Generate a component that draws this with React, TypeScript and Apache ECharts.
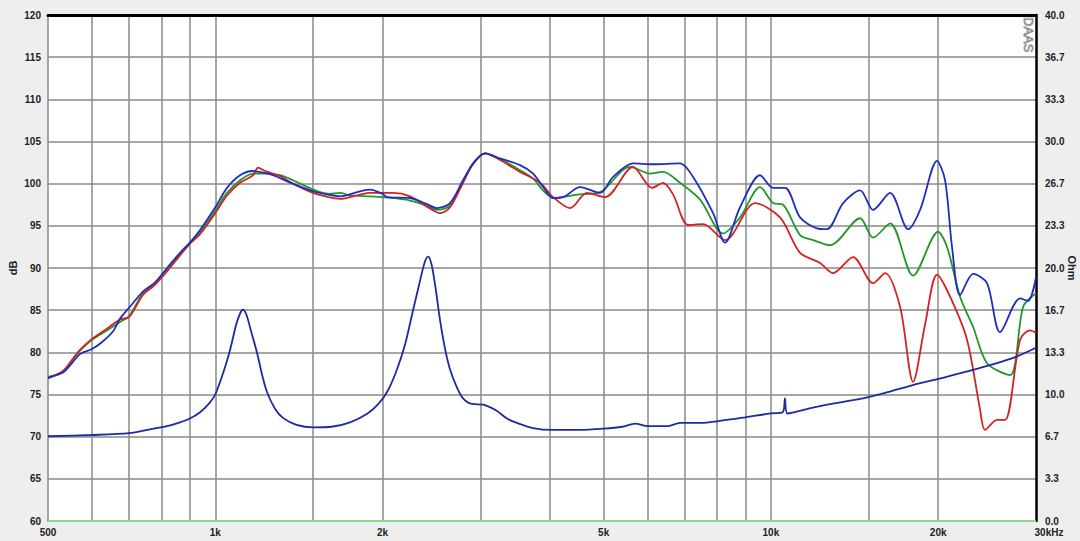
import { useEffect, useRef } from 'react';
import * as echarts from 'echarts';

// frequency (Hz), level (dB)
const splRed: [number, number][] = [
  [500, 76.9], [532, 77.8], [555, 79.3], [571, 80.3], [600, 81.6], [638, 82.8], [674, 83.9],
  [700, 84.2], [741, 86.8], [779, 88.0], [819, 89.6], [864, 91.5], [900, 92.9], [939, 94.0],
  [1000, 96.5], [1050, 98.6], [1108, 100.1], [1169, 101.0], [1194, 101.9], [1230, 101.5],
  [1308, 100.9], [1380, 100.0], [1500, 98.9], [1600, 98.4], [1677, 98.2], [1822, 98.7],
  [1899, 98.9], [2000, 98.9], [2089, 98.9], [2242, 98.5], [2400, 97.3], [2539, 96.5],
  [2646, 97.2], [2792, 100.1], [2911, 102.4], [3058, 103.6], [3255, 102.8], [3536, 101.4],
  [3842, 100.1], [4055, 98.4], [4351, 97.1], [4667, 98.9], [5030, 98.4], [5648, 102.0],
  [6110, 99.5], [6397, 100.1], [6670, 98.7], [7095, 95.1], [7549, 95.2], [8272, 93.3],
  [9366, 97.7], [10387, 96.0], [11285, 91.8], [12260, 90.6], [12941, 89.4], [14058, 91.3],
  [15276, 88.2], [16049, 89.4], [17080, 85.4], [18030, 76.5], [18944, 83.3], [19906, 89.2],
  [21014, 86.6], [22541, 81.5], [23794, 73.2], [24290, 70.8], [25527, 72.0], [26391, 72.0],
  [28085, 81.5], [29269, 82.6], [30000, 82.3],
];

const splGreen: [number, number][] = [
  [500, 77.1], [532, 77.7], [555, 79.2], [571, 80.2], [600, 81.5], [638, 82.6], [674, 83.6],
  [700, 84.3], [741, 87.0], [779, 88.2], [819, 89.9], [864, 91.6], [900, 92.9], [939, 94.2],
  [1000, 96.8], [1050, 98.9], [1108, 100.4], [1169, 101.2], [1230, 101.2], [1308, 101.0],
  [1380, 100.4], [1500, 99.3], [1600, 98.8], [1677, 98.9], [1750, 98.6], [1899, 98.5],
  [2000, 98.4], [2089, 98.3], [2242, 98.0], [2400, 97.4], [2506, 96.9], [2646, 97.4],
  [2792, 100.2], [2911, 102.3], [3058, 103.6], [3255, 102.9], [3536, 101.6], [3732, 100.6],
  [3890, 99.2], [4055, 98.3], [4478, 98.7], [4927, 99.0], [5578, 102.0], [6060, 101.2],
  [6397, 101.4], [6862, 100.1], [7456, 98.1], [8202, 94.1], [8800, 96.0], [9561, 99.6],
  [10090, 97.7], [10520, 97.5], [11285, 93.9], [11912, 93.3], [12778, 92.7], [14471, 95.9],
  [15276, 93.6], [16388, 95.3], [18030, 89.1], [19995, 94.3], [20749, 92.5], [21899, 86.6],
  [23121, 83.0], [24490, 78.7], [26946, 77.3], [28445, 85.4], [30000, 87.0],
];

const splBlue: [number, number][] = [
  [500, 77.0], [532, 77.6], [555, 78.9], [571, 79.8], [600, 80.4], [625, 81.2], [655, 82.5],
  [674, 84.0], [700, 85.3], [741, 87.2], [779, 88.3], [819, 90.0], [864, 91.8], [900, 93.0],
  [939, 94.5], [1000, 97.2], [1050, 99.5], [1108, 101.0], [1169, 101.5], [1220, 101.3],
  [1270, 101.0], [1380, 100.0], [1500, 99.1], [1600, 98.7], [1677, 98.5], [1822, 99.1],
  [1899, 99.3], [2000, 98.8], [2038, 98.4], [2242, 98.3], [2400, 97.6], [2506, 97.1],
  [2646, 97.7], [2792, 100.4], [2911, 102.4], [3058, 103.6], [3255, 103.0], [3536, 102.2],
  [3732, 101.2], [3890, 99.6], [4055, 98.3], [4226, 98.4], [4536, 99.6], [4927, 98.9],
  [5200, 100.8], [5648, 102.4], [6137, 102.3], [6862, 102.4], [7244, 100.8], [7870, 96.5],
  [8272, 93.0], [8800, 97.2], [9561, 101.0], [10090, 99.5], [10605, 99.5], [11285, 96.0],
  [12105, 94.7], [12617, 94.6], [13487, 97.7], [14471, 99.2], [15276, 96.9], [16388, 98.9],
  [17660, 94.6], [18558, 96.9], [19906, 102.7], [20582, 100.4], [21182, 92.5], [21899, 86.8],
  [23121, 89.3], [24490, 88.2], [25850, 82.4], [28085, 86.4], [29035, 86.1], [30000, 88.9],
];

// frequency (Hz), impedance (Ohm)
const impedance: [number, number][] = [
  [500, 6.7], [600, 6.8], [700, 6.95], [763, 7.25], [819, 7.5], [864, 7.8], [900, 8.1],
  [939, 8.6], [975, 9.3], [1000, 10.0], [1035, 11.8], [1063, 13.5], [1090, 15.5], [1108, 16.4],
  [1122, 16.7], [1138, 16.3], [1160, 15.0], [1189, 13.3], [1215, 11.5], [1239, 10.2],
  [1280, 8.9], [1324, 8.15], [1400, 7.6], [1500, 7.4], [1620, 7.45], [1748, 7.8],
  [1880, 8.5], [1970, 9.3], [2044, 10.3], [2120, 11.9], [2197, 14.0], [2260, 16.3],
  [2325, 18.6], [2380, 20.4], [2415, 20.9], [2450, 20.3], [2490, 18.5], [2540, 15.8],
  [2592, 13.6], [2645, 12.0], [2720, 10.6], [2792, 9.7], [2900, 9.25], [3035, 9.2],
  [3120, 9.0], [3215, 8.7], [3350, 8.1], [3490, 7.75], [3730, 7.35], [4050, 7.2],
  [4500, 7.2], [5000, 7.3], [5400, 7.45], [5700, 7.7], [6000, 7.5], [6500, 7.5],
  [6862, 7.75], [7500, 7.75], [8050, 7.9], [9000, 8.2], [10000, 8.5], [10500, 8.6],
  [10600, 9.7], [10700, 8.5], [12000, 9.0], [13000, 9.3], [14650, 9.7], [16000, 10.1],
  [18000, 10.75], [20700, 11.4], [23800, 12.1], [27300, 12.9], [30000, 13.7],
];

const freqMin = 500;
const freqMax = 30000;
const gridFreqs = [600, 700, 800, 900, 1000, 1500, 2000, 3000, 4000, 5000, 6000, 7000, 8000, 9000, 10000, 15000, 20000];
const labelFreqs = [500, 1000, 2000, 5000, 10000, 20000, 30000];
const labelTexts = ['500', '1k', '2k', '5k', '10k', '20k', '30kHz'];
const baselineDb = 60;

const lg = (pts: [number, number][]) => pts.map(([f, v]) => [Math.log10(f), v]);

const labelFont = {
  fontSize: 10,
  fontWeight: 'bold' as const,
  color: '#222',
  fontFamily: 'Liberation Sans, Arial, sans-serif',
};

export default function App() {
  const chartRef = useRef<HTMLDivElement>(null);

  useEffect(() => {
    if (!chartRef.current) return;
    const chart = echarts.init(chartRef.current, undefined, { renderer: 'svg' });

    const xMin = Math.log10(freqMin);
    const xMax = Math.log10(freqMax);

    const curve = (name: string, data: [number, number][], color: string, yAxisIndex = 0) => ({
      name,
      type: 'line',
      yAxisIndex,
      data: lg(data),
      showSymbol: false,
      smooth: 0.3,
      lineStyle: { color, width: 1.8 },
      itemStyle: { color },
    });

    chart.setOption({
      animation: false,
      backgroundColor: '#eeeeee',
      grid: {
        left: 48,
        right: 44,
        top: 15,
        bottom: 20,
        outerBoundsMode: 'none',
        containLabel: false,
        show: true,
        backgroundColor: '#ffffff',
        borderWidth: 0,
      },
      xAxis: [
        {
          type: 'value',
          min: xMin,
          max: xMax,
          offset: 2,
          axisLine: { show: true, lineStyle: { color: '#8a8a8a', width: 1 } },
          axisTick: { show: false, customValues: gridFreqs.map(f => Math.log10(f)) },
          splitLine: { show: true, lineStyle: { color: '#8a8a8a', width: 1.5 } },
          axisLabel: {
            ...labelFont,
            margin: 4,
            customValues: labelFreqs.map(f => Math.log10(f)),
            formatter: (v: number) => {
              const i = labelFreqs.findIndex(f => Math.abs(Math.log10(f) - v) < 1e-6);
              if (i < 0) return '';
              return i === labelFreqs.length - 1 ? `{hz|${labelTexts[i]}}` : labelTexts[i];
            },
            rich: { hz: { ...labelFont, padding: [0, 0, 0, 26] } },
          },
        },
        {
          type: 'value',
          position: 'top',
          min: xMin,
          max: xMax,
          axisLine: { show: true, lineStyle: { color: '#000', width: 3 } },
          axisTick: { show: false },
          axisLabel: { show: false },
          splitLine: { show: false },
        },
      ],
      yAxis: [
        {
          type: 'value',
          min: 60,
          max: 120,
          interval: 5,
          name: 'dB',
          nameLocation: 'middle',
          nameRotate: 90,
          nameGap: 30,
          nameMoveOverlap: false,
          nameTextStyle: { ...labelFont, fontSize: 11 },
          axisLine: { show: true, lineStyle: { color: '#8a8a8a', width: 1.5 } },
          axisTick: { show: false },
          axisLabel: { ...labelFont, margin: 7 },
          splitLine: { show: true, lineStyle: { color: '#8a8a8a', width: 1.5 } },
        },
        {
          type: 'value',
          min: 0,
          max: 40,
          interval: 40 / 12,
          position: 'right',
          name: 'Ohm',
          nameLocation: 'middle',
          nameRotate: -90,
          nameGap: 30,
          nameMoveOverlap: false,
          nameTextStyle: { ...labelFont, fontSize: 11 },
          axisLine: { show: true, lineStyle: { color: '#000', width: 2.5 } },
          axisTick: { show: false },
          axisLabel: { ...labelFont, margin: 9, formatter: (v: number) => v.toFixed(1) },
          splitLine: { show: false },
        },
      ],
      graphic: [
        {
          type: 'text',
          x: 1035,
          y: 17,
          rotation: -Math.PI / 2,
          style: {
            text: 'DAAS',
            fill: 'rgba(255,255,255,0)',
            stroke: '#888',
            lineWidth: 0.8,
            fontSize: 13,
            fontFamily: 'Liberation Sans, Arial, sans-serif',
          },
        },
      ],
      series: [
        {
          name: 'baseline',
          type: 'line',
          data: [[xMin, baselineDb], [xMax, baselineDb]],
          showSymbol: false,
          lineStyle: { color: '#8fd68f', width: 2 },
          z: 1,
        },
        curve('green', splGreen, '#1f9a2a'),
        curve('red', splRed, '#d42222'),
        curve('blue', splBlue, '#1e2fbf'),
        curve('impedance', impedance, '#1f2a9e', 1),
      ],
    });

    return () => chart.dispose();
  }, []);

  return (
    <div
      ref={chartRef}
      style={{ position: 'fixed', left: 0, top: 0, width: 1080, height: 541 }}
    />
  );
}
